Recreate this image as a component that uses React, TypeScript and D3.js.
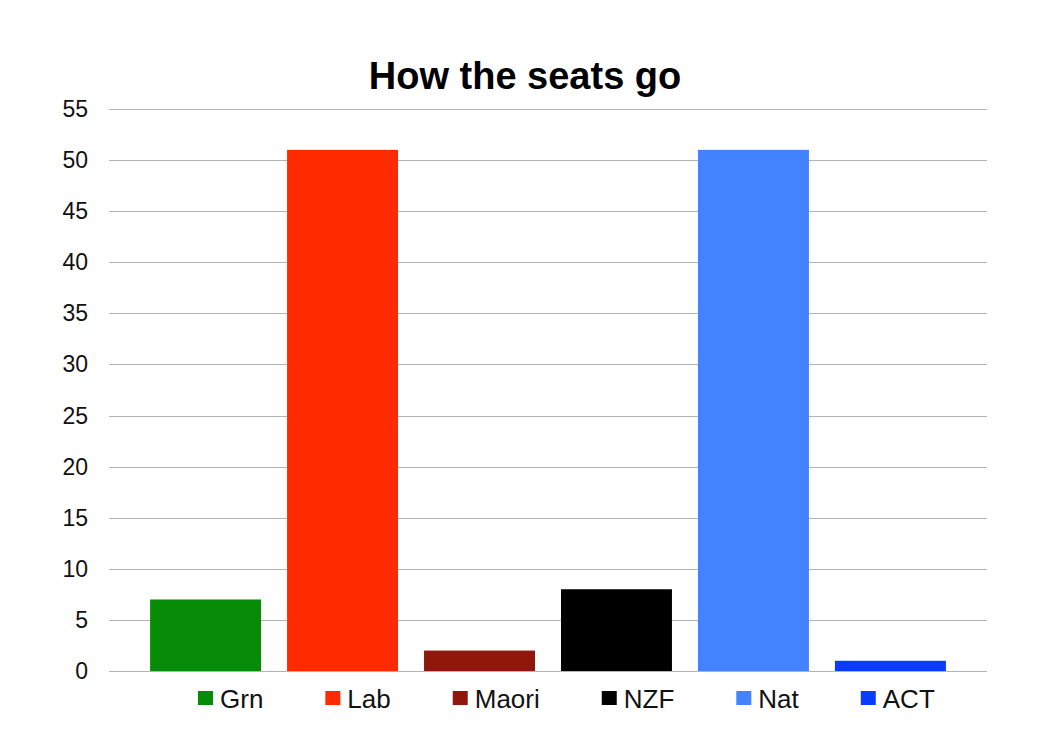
import * as d3 from "d3";
import * as React from "react";

const parties: string[] = ["Grn", "Lab", "Maori", "NZF", "Nat", "ACT"];
const seats: number[] = [7, 51, 2, 8, 51, 1];
const colours: string[] = ["#078c07", "#ff2a00", "#8f170b", "#000000", "#4383ff", "#0a3cff"];
const yTicks: number[] = [0, 5, 10, 15, 20, 25, 30, 35, 40, 45, 50, 55];

const WIDTH = 1034;
const HEIGHT = 738;
const FONT = "'Liberation Sans', Arial, sans-serif";

export default function App(): JSX.Element {
    const ref = React.useRef<SVGSVGElement>(null);

    React.useEffect(() => {
        const svg = d3.select(ref.current);
        svg.selectAll("*").remove();

        // chart area, in page coords minus body margin
        const left = 101, right = 979, top = 101, bottom = 663;

        const x = d3.scaleBand<string>()
            .domain(parties)
            .range([left, right])
            .paddingInner(0.19)
            .paddingOuter(0.3);

        const y = d3.scaleLinear().domain([0, 55]).range([bottom, top]);

        svg.append("text")
            .attr("x", 517)
            .attr("y", 81)
            .attr("text-anchor", "middle")
            .style("font-family", FONT)
            .style("font-weight", "bold")
            .style("font-size", "38px")
            .text("How the seats go");

        svg.append("g")
            .selectAll("line")
            .data(yTicks)
            .enter()
            .append("line")
            .attr("x1", left)
            .attr("x2", right)
            .attr("y1", d => Math.round(y(d)) + 0.5)
            .attr("y2", d => Math.round(y(d)) + 0.5)
            .attr("stroke", "#b4b4b4")
            .attr("stroke-width", 1.2);

        svg.append("g")
            .selectAll("text")
            .data(yTicks)
            .enter()
            .append("text")
            .attr("x", 80)
            .attr("y", d => y(d) + 8)
            .attr("text-anchor", "end")
            .style("font-family", FONT)
            .style("font-size", "23px")
            .attr("fill", "#111")
            .text(d => String(d));

        svg.append("g")
            .selectAll("rect")
            .data(seats)
            .enter()
            .append("rect")
            .attr("x", (_, i) => x(parties[i]) as number)
            .attr("width", x.bandwidth())
            .attr("y", d => y(d))
            .attr("height", d => y(0) - y(d))
            .attr("fill", (_, i) => colours[i]);

        // legend laid out left to right by measured text width
        const legend = svg.append("g");
        let cx = 190;
        parties.forEach((p, i) => {
            legend.append("rect")
                .attr("x", cx)
                .attr("y", 683)
                .attr("width", 15)
                .attr("height", 14)
                .attr("fill", colours[i]);
            const t = legend.append("text")
                .attr("x", cx + 22)
                .attr("y", 700)
                .style("font-family", FONT)
                .style("font-size", "26px")
                .attr("fill", "#111")
                .text(p);
            const w = (t.node() as SVGTextElement).getComputedTextLength();
            cx += 22 + w + 62;
        });
    }, []);

    return <svg ref={ref} width={WIDTH} height={HEIGHT} style={{ display: "block" }} />;
}
